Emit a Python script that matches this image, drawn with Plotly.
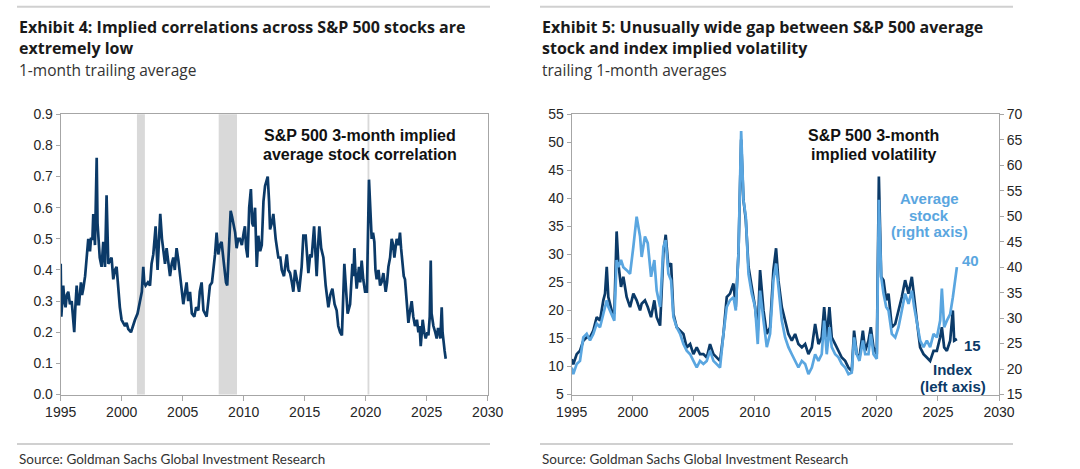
from plotly import graph_objects as go

# Exhibit 4: S&P 500 3-month implied average stock correlation
corr_years = [
    1995.0, 1995.05, 1995.21, 1995.3, 1995.4, 1995.5, 1995.62, 1995.76, 1995.9, 1996.0,
    1996.11, 1996.2, 1996.31, 1996.4, 1996.5, 1996.66, 1996.75, 1996.85, 1997.0, 1997.13,
    1997.26, 1997.4, 1997.48, 1997.6, 1997.67, 1997.81, 1997.95, 1998.02, 1998.08, 1998.2,
    1998.35, 1998.49, 1998.63, 1998.76, 1998.85, 1998.9, 1999.05, 1999.17, 1999.31, 1999.45,
    1999.58, 1999.72, 1999.85, 1999.99, 2000.15, 2000.27, 2000.4, 2000.54, 2000.76, 2000.9,
    2001.09, 2001.3, 2001.5, 2001.65, 2001.77, 2001.85, 2001.96, 2002.15, 2002.32, 2002.45,
    2002.59, 2002.78, 2002.94, 2003.05, 2003.16, 2003.3, 2003.41, 2003.55, 2003.68, 2003.85,
    2003.96, 2004.1, 2004.23, 2004.35, 2004.5, 2004.65, 2004.78, 2004.9, 2005.05, 2005.2,
    2005.32, 2005.45, 2005.6, 2005.75, 2005.95, 2006.1, 2006.28, 2006.4, 2006.55, 2006.7,
    2006.96, 2007.1, 2007.23, 2007.4, 2007.51, 2007.65, 2007.78, 2007.92, 2008.05, 2008.19,
    2008.35, 2008.46, 2008.55, 2008.65, 2008.8, 2008.93, 2009.05, 2009.15, 2009.3, 2009.42,
    2009.55, 2009.69, 2009.85, 2010.0, 2010.1, 2010.2, 2010.32, 2010.45, 2010.59, 2010.7,
    2010.79, 2010.93, 2011.07, 2011.2, 2011.35, 2011.48, 2011.62, 2011.75, 2011.97, 2012.08,
    2012.16, 2012.3, 2012.43, 2012.62, 2012.75, 2012.84, 2013.0, 2013.12, 2013.3, 2013.53,
    2013.65, 2013.8, 2013.95, 2014.07, 2014.21, 2014.35, 2014.54, 2014.75, 2014.89, 2015.08,
    2015.2, 2015.3, 2015.45, 2015.57, 2015.77, 2015.9, 2015.98, 2016.1, 2016.2, 2016.35,
    2016.53, 2016.72, 2016.85, 2016.94, 2017.1, 2017.27, 2017.45, 2017.62, 2017.75, 2017.9,
    2018.05, 2018.12, 2018.25, 2018.4, 2018.52, 2018.72, 2018.91, 2019.0, 2019.07, 2019.15,
    2019.26, 2019.45, 2019.55, 2019.67, 2019.8, 2019.95, 2020.1, 2020.27, 2020.38, 2020.49,
    2020.6, 2020.71, 2020.8, 2020.9, 2021.05, 2021.18, 2021.3, 2021.45, 2021.64, 2021.75,
    2021.86, 2022.0, 2022.13, 2022.25, 2022.35, 2022.45, 2022.54, 2022.7, 2022.81, 2022.9,
    2023.01, 2023.12, 2023.22, 2023.35, 2023.5, 2023.6, 2023.77, 2023.9, 2024.04, 2024.2,
    2024.32, 2024.42, 2024.51, 2024.6, 2024.67, 2024.8, 2024.92, 2025.05, 2025.14, 2025.25,
    2025.33, 2025.4, 2025.55, 2025.7, 2025.82, 2025.92, 2026.01, 2026.12, 2026.23, 2026.3,
    2026.37, 2026.47, 2026.56,
]
corr_values = [
    0.42, 0.25, 0.35, 0.30, 0.28, 0.32, 0.33, 0.29, 0.30, 0.26,
    0.20, 0.28, 0.35, 0.29, 0.29, 0.36, 0.32, 0.34, 0.38, 0.44,
    0.50, 0.46, 0.50, 0.50, 0.58, 0.48, 0.76, 0.55, 0.50, 0.44,
    0.41, 0.49, 0.41, 0.64, 0.50, 0.42, 0.43, 0.44, 0.37, 0.40,
    0.41, 0.33, 0.28, 0.24, 0.23, 0.22, 0.23, 0.21, 0.20, 0.22,
    0.24, 0.26, 0.30, 0.33, 0.41, 0.36, 0.35, 0.36, 0.35, 0.42,
    0.45, 0.54, 0.40, 0.48, 0.58, 0.50, 0.47, 0.42, 0.47, 0.40,
    0.38, 0.42, 0.44, 0.40, 0.47, 0.43, 0.39, 0.34, 0.29, 0.33,
    0.36, 0.30, 0.33, 0.26, 0.25, 0.28, 0.27, 0.33, 0.36, 0.27,
    0.25, 0.30, 0.35, 0.36, 0.40, 0.45, 0.52, 0.45, 0.48, 0.49,
    0.43, 0.39, 0.36, 0.35, 0.48, 0.59, 0.57, 0.55, 0.52, 0.47,
    0.50, 0.50, 0.48, 0.52, 0.54, 0.47, 0.44, 0.60, 0.66, 0.55,
    0.54, 0.60, 0.41, 0.51, 0.46, 0.48, 0.62, 0.67, 0.70, 0.62,
    0.53, 0.55, 0.58, 0.50, 0.46, 0.44, 0.44, 0.40, 0.38, 0.45,
    0.40, 0.39, 0.36, 0.33, 0.40, 0.37, 0.33, 0.41, 0.51, 0.51,
    0.43, 0.39, 0.45, 0.44, 0.54, 0.45, 0.38, 0.48, 0.54, 0.47,
    0.44, 0.35, 0.31, 0.28, 0.32, 0.34, 0.29, 0.27, 0.22, 0.20,
    0.19, 0.30, 0.42, 0.33, 0.26, 0.29, 0.42, 0.38, 0.47, 0.40,
    0.34, 0.41, 0.36, 0.43, 0.37, 0.33, 0.33, 0.69, 0.58, 0.50,
    0.52, 0.49, 0.40, 0.37, 0.40, 0.35, 0.36, 0.39, 0.33, 0.36,
    0.41, 0.44, 0.50, 0.48, 0.44, 0.47, 0.50, 0.48, 0.52, 0.47,
    0.41, 0.38, 0.37, 0.30, 0.23, 0.26, 0.30, 0.25, 0.22, 0.24,
    0.20, 0.22, 0.155, 0.20, 0.24, 0.20, 0.18, 0.20, 0.19, 0.25,
    0.43, 0.26, 0.22, 0.20, 0.18, 0.21, 0.21, 0.18, 0.28, 0.20,
    0.17, 0.14, 0.115,
]
recession_starts = [2001.25, 2007.95, 2020.15]
recession_ends = [2001.9, 2009.45, 2020.3]

# Exhibit 5: S&P 500 3-month implied volatility
vol_years = [
    1995.0, 1995.13, 1995.41, 1995.68, 1995.95, 1996.23, 1996.5, 1996.77, 1997.05, 1997.32,
    1997.59, 1997.73, 1997.87, 1998.0, 1998.27, 1998.49, 1998.68, 1998.82, 1999.04, 1999.23,
    1999.5, 1999.78, 2000.05, 2000.32, 2000.6, 2000.73, 2001.0, 2001.23, 2001.5, 2001.77,
    2001.96, 2002.24, 2002.51, 2002.7, 2002.92, 2003.14, 2003.33, 2003.6, 2003.88, 2004.15,
    2004.42, 2004.7, 2004.97, 2005.24, 2005.51, 2005.79, 2006.06, 2006.33, 2006.61, 2006.88,
    2007.15, 2007.43, 2007.7, 2007.97, 2008.25, 2008.44, 2008.66, 2008.88, 2009.07, 2009.26,
    2009.48, 2009.75, 2010.02, 2010.24, 2010.43, 2010.71, 2010.98, 2011.25, 2011.52, 2011.74,
    2011.93, 2012.21, 2012.48, 2012.75, 2013.03, 2013.3, 2013.57, 2013.85, 2014.12, 2014.39,
    2014.67, 2014.94, 2015.21, 2015.48, 2015.68, 2015.89, 2016.11, 2016.3, 2016.58, 2016.85,
    2017.12, 2017.4, 2017.67, 2017.94, 2018.13, 2018.35, 2018.57, 2018.85, 2019.04, 2019.31,
    2019.5, 2019.72, 2019.99, 2020.16, 2020.35, 2020.54, 2020.76, 2020.95, 2021.22, 2021.5,
    2021.77, 2022.04, 2022.31, 2022.59, 2022.86, 2023.05, 2023.27, 2023.54, 2023.82, 2024.09,
    2024.36, 2024.64, 2024.91, 2025.18, 2025.32, 2025.51, 2025.73, 2026.0, 2026.22, 2026.33,
    2026.55,
]
index_vol = [
    11.3, 10.4, 12.2, 12.8, 14.6, 15.2, 15.2, 16.4, 18.8, 18.2,
    21.8, 23.0, 27.8, 22.4, 20.0, 19.4, 34.1, 28.4, 24.2, 26.0,
    22.4, 20.6, 23.0, 21.8, 20.0, 21.2, 21.8, 20.6, 18.8, 21.8,
    18.8, 17.3, 30.2, 33.5, 27.8, 28.4, 19.4, 17.0, 16.4, 15.8,
    13.4, 14.0, 12.2, 13.4, 12.2, 12.2, 11.6, 14.0, 12.2, 11.6,
    11.0, 15.8, 22.4, 23.0, 24.8, 20.6, 30.2, 50.5, 39.7, 36.2,
    27.8, 24.2, 20.6, 16.4, 27.2, 20.0, 15.8, 17.0, 27.2, 31.1,
    25.4, 20.6, 18.2, 15.8, 14.6, 15.8, 14.0, 13.4, 14.0, 12.2,
    13.4, 17.6, 14.0, 15.2, 20.6, 15.2, 20.6, 15.2, 14.0, 12.8,
    11.6, 11.0, 9.8, 9.2, 16.4, 12.2, 11.6, 16.4, 12.8, 14.6,
    17.0, 13.4, 12.2, 43.9, 26.0, 25.4, 21.8, 23.0, 17.0, 17.6,
    20.0, 22.4, 25.4, 23.0, 26.0, 21.8, 18.2, 13.4, 12.2, 11.6,
    11.0, 12.8, 12.8, 15.2, 17.0, 13.4, 12.8, 14.6, 20.0, 14.6,
    14.9,
]
avg_stock_vol = [
    20.3, 19.0, 21.0, 21.6, 26.2, 26.9, 25.6, 26.9, 28.9, 28.2,
    30.8, 32.2, 33.5, 32.2, 30.8, 29.5, 41.4, 40.0, 41.4, 40.0,
    39.4, 38.7, 44.0, 49.9, 46.0, 42.0, 46.0, 44.7, 38.1, 41.4,
    35.4, 32.2, 44.0, 45.3, 38.7, 37.4, 30.2, 28.2, 26.9, 24.9,
    23.6, 22.9, 21.6, 20.3, 21.6, 21.0, 21.6, 23.6, 21.6, 21.0,
    20.3, 26.9, 32.2, 33.5, 34.1, 31.5, 42.7, 66.7, 53.2, 49.9,
    38.7, 34.8, 32.2, 24.9, 35.4, 29.5, 24.3, 26.9, 37.4, 40.7,
    36.1, 29.5, 26.2, 24.3, 22.9, 21.6, 20.3, 21.6, 21.0, 19.0,
    20.3, 22.9, 21.6, 22.9, 29.5, 22.9, 28.2, 24.3, 22.9, 22.3,
    21.0, 20.3, 19.0, 19.3, 26.2, 22.9, 21.6, 25.6, 22.9, 22.9,
    26.9, 22.9, 22.0, 53.2, 38.1, 34.8, 32.2, 31.5, 26.9, 26.2,
    28.2, 31.5, 34.8, 32.8, 35.4, 32.2, 28.9, 25.6, 24.3, 25.6,
    24.3, 26.9, 26.2, 29.5, 35.8, 28.2, 29.5, 30.8, 34.1, 36.1,
    40.0,
]

navy = '#0b3a68'
light_blue = '#5aa6e0'
axis_grey = '#a6a6a6'
tick_font = dict(family='Liberation Sans, Arial', size=14, color='#262626')
W, H = 1080, 469


def px(x):
    return x / W


def py(y):
    return 1 - y / H


fig = go.Figure()

fig.add_trace(go.Scatter(x=corr_years, y=corr_values, mode='lines',
                         line=dict(color=navy, width=2.7), xaxis='x', yaxis='y'))

fig.add_trace(go.Scatter(x=vol_years, y=index_vol, mode='lines',
                         line=dict(color=navy, width=2.7), xaxis='x2', yaxis='y2'))
fig.add_trace(go.Scatter(x=vol_years, y=avg_stock_vol, mode='lines',
                         line=dict(color=light_blue, width=2.7), xaxis='x2', yaxis='y3'))

ydom = [py(394.5), py(114.3)]
common_x = dict(range=[1995, 2030], dtick=5, tick0=1995, showgrid=False, zeroline=False,
                showline=True, linecolor=axis_grey, linewidth=1, mirror=True,
                ticks='outside', ticklen=5, tickcolor=axis_grey, tickfont=tick_font,
                automargin=False)
common_y = dict(showgrid=False, zeroline=False, showline=True, linecolor=axis_grey,
                ticks='outside', ticklen=4, tickcolor=axis_grey, tickfont=tick_font,
                automargin=False)

fig.update_layout(
    width=W, height=H,
    margin=dict(l=0, r=0, t=0, b=0),
    paper_bgcolor='white', plot_bgcolor='white',
    showlegend=False,
    xaxis=dict(domain=[px(60.7), px(487.7)], anchor='y', **common_x),
    yaxis=dict(domain=ydom, anchor='x', range=[0, 0.9], dtick=0.1, tickformat='.1f',
               mirror=True, **common_y),
    xaxis2=dict(domain=[px(571.7), px(999)], anchor='y2', **common_x),
    yaxis2=dict(domain=ydom, anchor='x2', range=[5, 55], dtick=5, mirror=True, **common_y),
    yaxis3=dict(overlaying='y2', anchor='x2', side='right', range=[15, 70], dtick=5,
                **common_y),
)

# recession shading
for s, e in zip(recession_starts, recession_ends):
    fig.add_shape(type='rect', xref='x', yref='y domain', x0=s, x1=e, y0=0, y1=1,
                  fillcolor='#d9d9d9', line_width=0, layer='below')

# separators above titles and above sources
for x0, x1 in [(17, 490), (540, 1013)]:
    for yy in (6.7, 444):
        fig.add_shape(type='line', xref='paper', yref='paper', x0=px(x0), x1=px(x1),
                      y0=py(yy), y1=py(yy), line=dict(color='#d0d0d0', width=2))

title_font = dict(family='Open Sans', size=16, color='#1a1a1a')
sub_font = dict(family='Open Sans', size=15.5, color='#333333')


def text(x, y, s, font, anchor='left'):
    fig.add_annotation(x=px(x), y=py(y), xref='paper', yref='paper', text=s,
                       showarrow=False, xanchor=anchor, yanchor='middle', font=font)


text(17, 26.7, '<b>Exhibit 4: Implied correlations across S&P 500 stocks are</b>', title_font)
text(17, 48.3, '<b>extremely low</b>', title_font)
text(17, 70, '1-month trailing average', sub_font)
text(540, 26.7, '<b>Exhibit 5: Unusually wide gap between S&P 500 average</b>', title_font)
text(540, 48.3, '<b>stock and index implied volatility</b>', title_font)
text(540, 70, 'trailing 1-month averages', sub_font)

src_font = dict(family='Lato', size=13.5, color='#333333')
text(17, 459, 'Source: Goldman Sachs Global Investment Research', src_font)
text(540, 459, 'Source: Goldman Sachs Global Investment Research', src_font)

inner_font = dict(family='Liberation Sans, Arial', size=16, color='#111111')
text(360, 135, '<b>S&P 500 3-month implied</b>', inner_font, 'center')
text(360, 154.3, '<b>average stock correlation</b>', inner_font, 'center')
text(873, 135, '<b>S&P 500 3-month</b>', inner_font, 'center')
text(873, 154.3, '<b>implied volatility</b>', inner_font, 'center')

lb_font = dict(family='Liberation Sans, Arial', size=15, color=light_blue)
nv_font = dict(family='Liberation Sans, Arial', size=15, color=navy)
text(929, 199, '<b>Average</b>', lb_font, 'center')
text(929, 215.3, '<b>stock</b>', lb_font, 'center')
text(929, 231.7, '<b>(right axis)</b>', lb_font, 'center')
text(953, 369.3, '<b>Index</b>', nv_font, 'center')
text(953, 386, '<b>(left axis)</b>', nv_font, 'center')

# end-of-series value labels
fig.add_annotation(x=vol_years[-1], y=avg_stock_vol[-1], xref='x2', yref='y3',
                   text='<b>%.0f</b>' % avg_stock_vol[-1], showarrow=False,
                   xanchor='left', xshift=3, yshift=7, font=lb_font)
fig.add_annotation(x=vol_years[-1], y=index_vol[-1], xref='x2', yref='y2',
                   text='<b>%.0f</b>' % index_vol[-1], showarrow=False,
                   xanchor='left', xshift=5, yshift=-6, font=nv_font)

# the page body has a default 8px margin; drop it so the figure sits at the window corner
fig.write_html("out.html", config={'displayModeBar': False},
               post_script="document.body.style.margin = '0';")
